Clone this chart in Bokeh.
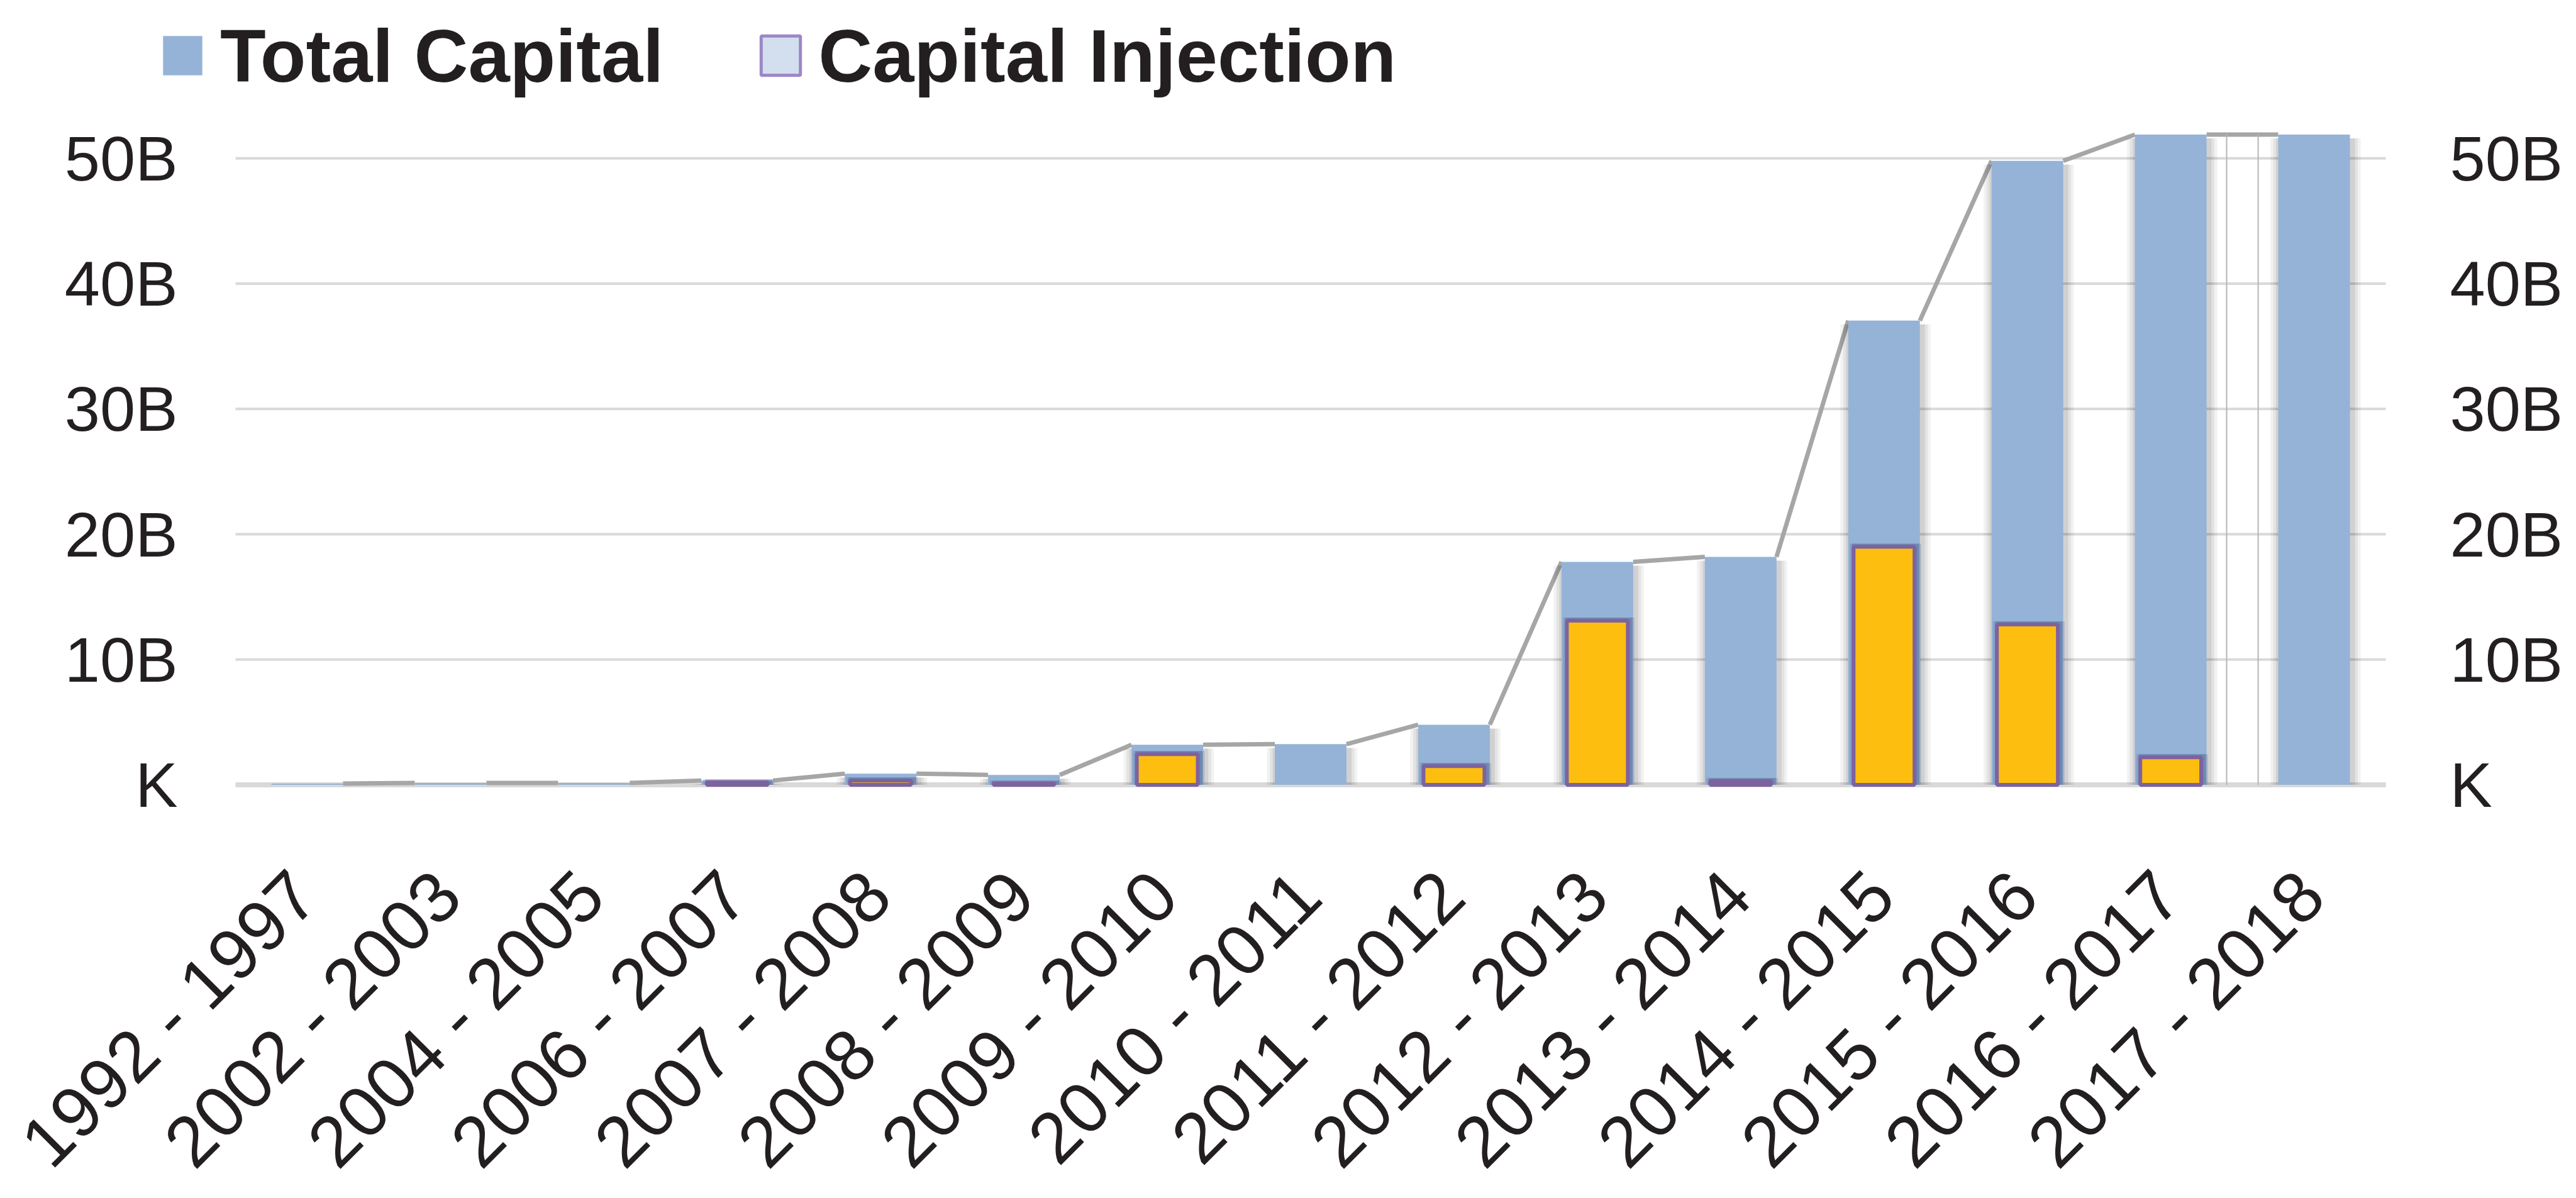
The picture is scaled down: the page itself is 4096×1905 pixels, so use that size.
import math
from bokeh.plotting import figure
from bokeh.models import Range1d, Legend, LegendItem
from bokeh.core.properties import value
from bokeh.embed import file_html
from bokeh.resources import INLINE

# ---------------- data (billions) ----------------
categories = ["1992 - 1997", "2002 - 2003", "2004 - 2005", "2006 - 2007",
              "2007 - 2008", "2008 - 2009", "2009 - 2010", "2010 - 2011",
              "2011 - 2012", "2012 - 2013", "2013 - 2014", "2014 - 2015",
              "2015 - 2016", "2016 - 2017", "2017 - 2018"]
total_capital = [0.1, 0.15, 0.15, 0.35, 0.9, 0.8, 3.2, 3.25, 4.8,
                 17.8, 18.2, 37.05, 49.8, 51.9, 51.9]
capital_injection = [0.0, 0.0, 0.0, 0.2, 0.35, 0.1, 2.45, 0.0, 1.5,
                     13.1, 0.3, 19.0, 12.8, 2.2, 0.0]
y_ticks = [0, 10, 20, 30, 40, 50]
y_tick_labels = ["K", "10B", "20B", "30B", "40B", "50B"]
series_names = ["Total Capital", "Capital Injection"]

BLUE = "#95b3d7"
YELLOW = "#fdbe10"
PURPLE = "#7d62a0"
GREY_LINE = "#a6a6a6"
GRID = "#d9d9d9"
TXT = "#231f20"
FONT = "Liberation Sans"

# ---------------- layout (pixels of the 4080 x 1889 canvas) ----------------
W, H = 4080, 1889
BAND_LEFT = 374            # left edge of the category band
BAND_RIGHT = 3793          # right edge of the category band
ZERO_Y = 1247.6            # canvas y of the value 0
PX_PER_B = 19.926          # pixels per billion
N = len(categories)
PX_PER_CAT = (BAND_RIGHT - BAND_LEFT) / N


def data_x(px):            # canvas x -> data x
    return -0.5 + (px - BAND_LEFT) / PX_PER_CAT


def data_y(py):            # canvas y -> data y
    return (ZERO_Y - py) / PX_PER_B


xpos = list(range(N))
p = figure(x_range=Range1d(data_x(0), data_x(W)), y_range=Range1d(data_y(H), data_y(0)),
           width=W, height=H, output_backend="svg", toolbar_location=None,
           x_axis_location=None, y_axis_location=None, min_border=0)
p.outline_line_color = None
p.background_fill_color = "white"
p.border_fill_color = "white"
p.grid.visible = False

# horizontal grid lines over the category band
p.segment(x0=[-0.5] * len(y_ticks), x1=[N - 0.5] * len(y_ticks),
          y0=y_ticks, y1=y_ticks, line_color=GRID, line_width=4)
p.segment(x0=[-0.5], x1=[N - 0.5], y0=[0], y1=[0], line_color=GRID, line_width=8)

# value labels, left (right-aligned) and right (left-aligned)
p.text(x=[data_x(282)] * len(y_ticks), y=y_ticks, text=y_tick_labels,
       text_align="right", text_baseline="middle", text_font=value(FONT),
       text_font_size="101px", text_color=TXT)
p.text(x=[data_x(3895)] * len(y_ticks), y=y_ticks, text=y_tick_labels,
       text_align="left", text_baseline="middle", text_font=value(FONT),
       text_font_size="101px", text_color=TXT)

# category labels, rotated 45 degrees, ending under each bar
p.text(x=[i - 0.02 for i in xpos], y=[data_y(1404)] * N, text=categories,
       angle=math.pi / 4, text_align="right", text_baseline="middle",
       text_font=value(FONT), text_font_size="114px", text_color=TXT)

# connecting grey line across the gaps: top-right of a bar to top-left of the next
p.segment(x0=[i + 0.25 for i in xpos[:-1]], y0=total_capital[:-1],
          x1=[i - 0.25 for i in xpos[1:]], y1=total_capital[1:],
          line_color=GREY_LINE, line_width=7)

# thin vertical rules between the last two bars
p.segment(x0=[xpos[-2] + 0.39, xpos[-1] - 0.39], y0=[0, 0],
          x1=[xpos[-2] + 0.39, xpos[-1] - 0.39],
          y1=[total_capital[-2], total_capital[-1]],
          line_color="#b5b5b5", line_width=2)

# legend proxy for "Capital Injection" (light box with purple frame); its one
# small bar is drawn first and sits fully hidden behind the 2010 - 2011 blue bar
proxy = p.vbar(x=[xpos[7]], top=[total_capital[7] * 0.5], bottom=[total_capital[7] * 0.2],
               width=0.25, fill_color="#d3deee", line_color="#9c87c6", line_width=5)

# soft shadows behind blue bars
shadow_x = [i + 0.01 for i in xpos]
shadow_top = [max(v - 0.3, 0) for v in total_capital]
for w, a in [(0.63, 0.05), (0.59, 0.06), (0.55, 0.08)]:
    p.vbar(x=shadow_x, top=shadow_top, bottom=0, width=w,
           fill_color="black", fill_alpha=a, line_color=None)

blue = p.vbar(x=xpos, top=total_capital, bottom=0, width=0.5,
              fill_color=BLUE, line_color=None)

# dark halo around injection bars
has_inj = [1.0 if v > 0 else 0.0 for v in capital_injection]
halo_top = [v + 0.25 if v > 0 else 0 for v in capital_injection]
for w, a in [(0.50, 0.22), (0.47, 0.4)]:
    p.vbar(x=shadow_x, top=halo_top, bottom=0, width=w,
           fill_color="#4e6391", fill_alpha=a, line_color=None)

p.vbar(x=xpos, top=capital_injection, bottom=0, width=0.425,
       fill_color=YELLOW, fill_alpha=has_inj, line_color=PURPLE,
       line_alpha=has_inj, line_width=6)

legend = Legend(items=[LegendItem(label=series_names[0], renderers=[blue]),
                       LegendItem(label=series_names[1], renderers=[proxy])],
                orientation="horizontal", location=(251, H - 156.5),
                glyph_width=78, glyph_height=78, label_standoff=21, spacing=147,
                padding=0, margin=0, border_line_color=None,
                background_fill_alpha=0,
                label_text_font=FONT, label_text_font_style="bold",
                label_text_font_size="119px", label_text_color=TXT)
p.add_layout(legend, "center")

open("out.html", "w").write(file_html(p, INLINE))
